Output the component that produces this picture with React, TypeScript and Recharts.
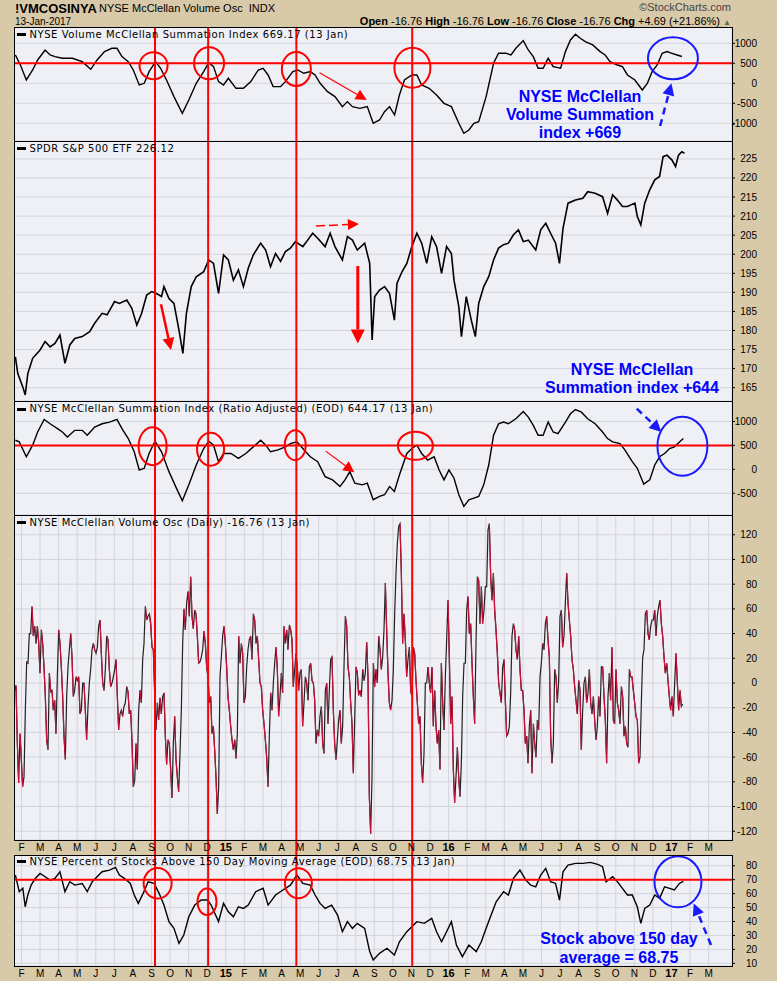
import React from 'react';
import { LineChart, Line, XAxis, YAxis, CartesianGrid, ReferenceLine, ReferenceDot } from 'recharts';

const SANS = "'Liberation Sans', Arial, Helvetica, sans-serif";
const VERD = "'DejaVu Sans', Verdana, sans-serif";

// x values are months since 1 Jan 2014 (1 = 1 Feb 2014, 36 = 1 Jan 2017)
const MONTH_LABELS = ['F','M','A','M','J','J','A','S','O','N','D','15','F','M','A','M','J','J','A','S','O','N','D','16','F','M','A','M','J','J','A','S','O','N','D','17','F','M'];
const MONTH_TICKS = MONTH_LABELS.map((_, i) => i + 1);
const X_DOMAIN: [number, number] = [0.596, 39.26];

// NYSE Volume McClellan Summation Index
const SUM_VOL_T = [0.67,0.94,1.26,1.60,1.87,2.27,2.54,2.80,3.20,3.74,4.27,4.73,5.07,5.47,5.87,6.14,6.41,6.75,7.02,7.34,7.61,7.87,8.22,8.49,8.81,9.21,9.66,10.01,10.41,10.81,11.08,11.34,11.61,11.88,12.14,12.55,12.95,13.35,13.75,14.01,14.28,14.55,14.95,15.21,15.61,15.88,16.20,16.55,16.81,17.08,17.48,17.88,18.28,18.55,18.82,19.22,19.62,19.94,20.28,20.55,20.82,21.09,21.35,21.62,22.02,22.29,22.55,22.95,23.35,23.75,24.15,24.55,24.82,25.09,25.36,25.62,26.02,26.42,26.69,27.09,27.36,27.62,28.02,28.29,28.56,28.82,29.09,29.36,29.63,30.03,30.29,30.56,30.83,31.09,31.36,31.76,32.16,32.43,32.69,33.09,33.36,33.63,34.03,34.43,34.70,34.96,35.23,35.50,35.76,36.03,36.30,36.56];
const SUM_VOL_V = [708,458,83,333,583,833,708,667,625,625,542,350,583,792,875,875,667,542,333,-42,0,292,542,375,83,-333,-750,-417,0,292,517,417,42,-42,125,-125,-125,42,333,375,208,-83,-83,42,292,333,250,292,208,0,-208,-333,-583,-458,-583,-625,-583,-1000,-917,-708,-583,-792,-292,83,208,208,-42,-125,-292,-500,-583,-1000,-1250,-1167,-1000,-958,-333,500,750,750,708,875,1067,833,667,375,375,625,417,375,792,1083,1225,1125,1042,958,792,708,542,458,417,208,83,-167,0,292,458,750,792,750,708,669];

// SPDR S&P 500 ETF
const SPY_T = [0.67,0.80,1.07,1.20,1.34,1.60,2.00,2.27,2.54,2.80,3.07,3.34,3.60,3.87,4.27,4.67,4.94,5.34,5.61,6.01,6.27,6.67,6.94,7.21,7.47,7.74,8.01,8.27,8.54,8.67,8.94,9.21,9.48,9.69,9.88,10.14,10.41,10.81,11.08,11.34,11.61,11.88,12.14,12.41,12.68,12.95,13.21,13.48,13.88,14.15,14.41,14.68,14.95,15.21,15.48,15.75,16.15,16.41,16.68,16.95,17.35,17.62,17.88,18.28,18.55,18.82,19.08,19.48,19.75,19.88,20.02,20.28,20.55,20.82,21.08,21.22,21.49,21.75,22.02,22.29,22.55,22.82,23.09,23.35,23.62,23.89,24.15,24.29,24.55,24.69,24.95,25.22,25.44,25.62,25.89,26.16,26.42,26.69,26.96,27.22,27.49,27.76,28.02,28.29,28.69,28.96,29.23,29.49,29.76,29.97,30.16,30.43,30.83,31.23,31.49,31.89,32.29,32.56,32.83,33.09,33.36,33.63,34.03,34.16,34.35,34.56,34.83,35.10,35.36,35.55,35.76,36.03,36.22,36.38,36.56,36.70];
const SPY_V = [173.1,168.7,165.2,163.1,168.7,172.7,174.9,177.1,175.7,176.6,178.8,171.4,176.2,177.9,178.4,179.7,181.9,184.5,184.1,187.6,187.1,188.0,185.8,181.4,184.5,189.3,190.2,189.7,188.9,191.5,188.4,187.1,180.1,174.0,184.5,191.5,194.1,195.4,198.5,197.6,189.7,199.8,198.5,193.2,195.9,191.5,196.3,199.8,202.9,201.1,196.7,200.2,198.1,200.7,201.6,203.3,202.0,203.7,205.5,204.2,202.0,205.5,202.0,198.5,204.6,203.7,201.1,202.9,197.6,177.5,188.9,190.6,191.5,189.7,182.7,192.4,195.4,197.6,202.0,205.5,202.9,197.6,204.6,202.0,195.0,202.0,200.2,193.2,186.2,178.4,188.9,182.7,178.4,187.1,191.5,194.1,198.5,201.6,202.5,202.9,205.1,206.4,203.3,203.7,201.1,206.4,208.1,205.5,202.9,197.6,206.8,213.4,214.2,214.7,216.4,216.0,215.1,210.7,215.6,214.2,212.5,212.5,213.4,209.9,207.7,213.4,216.9,219.5,220.4,225.6,226.0,224.7,223.0,226.0,226.9,226.5];

// NYSE McClellan Summation Index (Ratio Adjusted)
const SUM_RA_T = [0.67,0.88,1.26,1.60,1.87,2.22,2.54,2.94,3.20,3.47,3.87,4.27,4.54,4.94,5.34,5.74,6.14,6.41,6.75,7.07,7.34,7.61,7.87,8.19,8.54,8.94,9.34,9.66,10.01,10.41,10.81,11.08,11.34,11.61,11.88,12.28,12.68,13.08,13.48,13.88,14.15,14.41,14.81,15.21,15.48,15.83,16.15,16.55,16.95,17.35,17.75,18.15,18.42,18.68,18.95,19.35,19.62,19.94,20.28,20.55,20.82,21.08,21.35,21.75,22.02,22.29,22.55,22.87,23.22,23.49,23.75,24.02,24.29,24.55,24.82,25.09,25.36,25.62,25.89,26.16,26.42,26.69,26.96,27.22,27.62,28.02,28.29,28.56,28.82,29.09,29.36,29.63,29.89,30.29,30.56,30.83,31.15,31.49,31.89,32.29,32.56,32.83,33.23,33.49,33.89,34.16,34.51,34.83,35.10,35.36,35.63,35.90,36.16,36.43,36.64];
const SUM_RA_V = [607,573,262,504,780,1042,952,849,780,676,814,814,711,883,952,987,1042,849,642,366,-14,21,331,587,366,-48,-393,-656,-324,90,435,587,504,159,331,331,228,331,469,607,504,366,407,469,538,573,435,262,159,-152,-221,-359,-221,-48,-290,-324,-290,-635,-566,-531,-359,-462,-117,331,435,504,331,193,262,-14,-221,-14,-186,-531,-773,-635,-600,-566,-324,90,711,952,987,952,1056,1208,1090,918,711,711,987,780,745,987,1159,1249,1194,1056,952,780,642,573,538,407,159,21,-310,-221,90,262,331,435,469,573,644];

// NYSE McClellan Volume Oscillator (daily readings, one every ~1.5 trading days)
const OSC_START = 0.632;
const OSC_STEP = 0.0718;
const OSC_V = [
-6,-2,-49,-81,-41,-62,-84,-76,-22,17,16,40,40,62,38,46,32,46,33,8,
43,32,13,-11,-46,-54,8,-7,-6,-22,-14,-41,5,43,32,13,-11,-43,-62,-11,
13,27,40,21,-11,-6,5,2,5,-25,-22,0,0,-22,-46,-19,0,11,27,32,
27,24,29,46,51,24,0,-6,11,38,35,11,-3,0,5,11,19,-11,-38,-25,
-22,-27,-19,-16,-3,-7,-25,-22,-48,-84,-79,-49,-70,-22,-6,-16,19,32,62,51,
54,56,48,29,27,-8,-38,-16,-30,-12,-25,-11,-8,-43,-66,-46,-49,-70,-93,-49,
-27,-62,-76,-88,-57,-22,32,60,43,65,74,54,86,54,44,59,56,38,16,17,
21,27,42,32,13,5,-16,-11,-41,-35,-54,-76,-106,-84,5,21,38,46,32,13,
-11,-22,-35,-46,-54,-46,-61,-41,38,16,32,24,-16,-11,13,27,35,38,19,56,
51,32,38,19,0,-3,-22,-33,-46,-60,-84,-43,-8,-22,0,16,29,11,-27,-11,
8,-8,46,32,43,27,47,43,35,-3,11,24,13,-6,8,11,-35,-16,5,0,
-14,13,16,2,0,-14,-49,-38,-43,-27,-19,-49,-57,-6,0,-33,-6,19,21,-22,
-49,-62,-46,-30,-22,-49,-35,13,54,46,13,5,-16,-33,-73,-30,13,8,-10,-6,
-11,11,2,8,33,5,-92,-122,-76,16,-3,11,0,38,27,11,21,43,81,43,
8,-16,-22,-14,11,56,89,113,127,129,
89,32,56,35,5,19,29,-6,-11,29,24,2,-16,-33,-27,-65,-81,-57,0,0,
13,0,-8,13,-35,-6,-35,-49,-38,-70,16,-16,-38,5,35,67,21,-33,-11,-70,
-97,-76,-52,-76,-92,-65,-11,16,16,59,70,40,48,16,-11,-33,32,86,83,48,
78,48,59,78,78,124,129,86,67,89,59,43,24,0,-8,-16,13,19,-14,-43,
-41,-35,-8,38,48,43,27,19,38,11,-6,-6,-22,-49,-43,-65,-35,-22,-73,-33,
-49,-60,-30,-38,5,16,32,27,48,54,35,21,-43,-65,-49,11,5,-16,2,54,
59,29,38,65,89,65,51,38,19,11,-3,-14,-25,2,-6,-54,-22,0,5,-16,
-8,11,-16,-25,-11,-30,-46,-35,-11,-27,13,13,-11,-30,-65,-11,8,-14,29,-30,
-33,11,-16,-22,-33,-3,-11,-43,-35,-49,-52,11,5,5,-6,-16,-27,-30,-65,-60,
-16,21,27,56,59,40,35,46,51,51,59,38,54,62,67,48,38,21,8,16,
2,-11,-22,-11,-27,0,24,0,-22,-6,-19,-17
];

// NYSE Percent of Stocks Above 150 Day Moving Average
const PCT_T = [0.67,0.88,1.07,1.20,1.34,1.52,1.74,2.00,2.27,2.54,2.80,3.07,3.34,3.60,3.87,4.27,4.54,4.81,5.07,5.34,5.74,6.06,6.27,6.54,6.86,7.07,7.29,7.55,7.82,8.14,8.41,8.67,8.94,9.21,9.48,9.74,10.01,10.33,10.68,11.02,11.21,11.61,11.88,12.14,12.41,12.68,12.95,13.21,13.61,14.01,14.28,14.68,15.08,15.48,15.83,16.15,16.55,16.81,17.08,17.35,17.70,18.02,18.28,18.55,18.82,19.08,19.48,19.75,19.94,20.28,20.68,21.08,21.35,21.75,22.02,22.29,22.69,23.09,23.35,23.62,23.89,24.15,24.42,24.74,25.09,25.49,25.76,26.02,26.29,26.56,26.96,27.22,27.49,27.84,28.16,28.42,28.69,28.96,29.23,29.49,29.76,29.97,30.16,30.43,30.83,31.23,31.63,32.03,32.29,32.48,32.83,33.09,33.36,33.63,33.89,34.16,34.35,34.56,34.83,35.10,35.36,35.63,35.90,36.16,36.43,36.64];
const PCT_V = [73.3,61.4,63.8,50.6,59,66.1,70.9,74.5,72.1,69.7,70.9,75.7,61.4,68.5,66.1,67.3,61.4,68.5,72.1,75.7,76.9,78.8,73.3,70.9,67.3,59,53,60.2,68.5,67.3,60.2,51.8,39.9,35.1,24.3,30.3,43.4,51.8,55.4,55.4,51.8,39.9,53,47,43.4,50.6,49.4,51.8,61.4,63.8,51.8,59,62.6,66.1,73.3,67.3,66.1,59,53,49.4,51.8,44.6,32.7,39.9,35.1,38.7,35.1,18.4,12.4,17.2,20.8,16,25.5,32.7,36.3,39.9,38.7,42.3,32.7,25.5,32.7,39.9,23.1,14.8,23.1,18.4,25.5,35.1,44.6,54.2,61.4,59,70.9,76.9,69.7,66.1,64.9,73.3,78.1,68.5,67.3,55.4,75.7,80.5,81.7,81.7,82.4,81,79.3,68.5,72.1,68.5,63.8,59,59,50.6,38.7,49.4,51.8,59,56.6,64.9,63.8,62.6,67.3,68.75];

// Signal dates (vertical red lines), in the same month units
const SIGNAL_T = [8.19, 11.05, 15.80, 22.04];

const toRows = (ts: number[], vs: number[]) => ts.map((t, i) => ({ t, v: vs[i] }));
const sumVolRows = toRows(SUM_VOL_T, SUM_VOL_V);
const spyRows = toRows(SPY_T, SPY_V);
const sumRaRows = toRows(SUM_RA_T, SUM_RA_V);
const pctRows = toRows(PCT_T, PCT_V);

// oscillator rows with falling stretches split into two alternating keys (drawn red)
const oscRows: any[] = OSC_V.map((v, i) => ({ t: OSC_START + i * OSC_STEP, v, dA: null, dB: null }));
(() => {
  let run = -1;
  let inRun = false;
  for (let i = 0; i < OSC_V.length - 1; i++) {
    if (OSC_V[i + 1] < OSC_V[i]) {
      if (!inRun) { run++; inRun = true; }
      const k = run % 2 === 0 ? 'dA' : 'dB';
      oscRows[i][k] = OSC_V[i];
      oscRows[i + 1][k] = OSC_V[i + 1];
    } else {
      inRun = false;
    }
  }
})();

const RED = '#ff0000';
const BLUE = '#1a1aff';

function XTick(props: any) {
  const { x, y, payload } = props;
  const idx = MONTH_TICKS.indexOf(payload.value);
  const label = idx >= 0 ? MONTH_LABELS[idx] : '';
  const bold = /\d/.test(label);
  return (
    <text x={x} y={y + 11} textAnchor="middle" fontSize={bold ? 11 : 10} fontWeight={bold ? 700 : 400} fontFamily={SANS} fill="#000">
      {label}
    </text>
  );
}

function YTick(props: any) {
  const { x, y, payload } = props;
  return (
    <text x={x + 22} y={y + 3.5} textAnchor="end" fontSize={10} fontFamily={SANS} fill="#000">
      {payload.value}
    </text>
  );
}

const arrowShape = (color: string, width: number, head: number, dash?: string) => (p: any) => {
  const x1 = Number(p.x1), y1 = Number(p.y1), x2 = Number(p.x2), y2 = Number(p.y2);
  const a = Math.atan2(y2 - y1, x2 - x1);
  const bx = x2 - head * Math.cos(a);
  const by = y2 - head * Math.sin(a);
  const w = head * 0.5;
  const px = -Math.sin(a) * w;
  const py = Math.cos(a) * w;
  return (
    <g>
      <line x1={x1} y1={y1} x2={bx} y2={by} stroke={color} strokeWidth={width} strokeDasharray={dash} />
      <polygon points={`${x2},${y2} ${bx + px},${by + py} ${bx - px},${by - py}`} fill={color} />
    </g>
  );
};

const ellipseShape = (rx: number, ry: number, color: string) => (p: any) => (
  <ellipse cx={p.cx} cy={p.cy} rx={rx} ry={ry} fill="none" stroke={color} strokeWidth={2} />
);

type PanelProps = {
  top: number;
  height: number;
  axisH: number;
  data: any[];
  domain: [number, number];
  yTicks: number[];
  children?: React.ReactNode;
};

function Panel({ top, height, axisH, data, domain, yTicks, children }: PanelProps) {
  return (
    <div style={{ position: 'absolute', left: 0, top, width: 777, height: height + axisH }}>
      <LineChart width={777} height={height + axisH} data={data} margin={{ top: 0, right: 5, bottom: 0, left: 14 }}>
        <CartesianGrid stroke="#d3d4dc" fill="#eff0f5" />
        <XAxis
          type="number"
          dataKey="t"
          domain={X_DOMAIN}
          allowDataOverflow
          ticks={MONTH_TICKS}
          interval={0}
          height={axisH}
          axisLine={false}
          tickLine={false}
          tickSize={0}
          tickMargin={0}
          tick={axisH > 0 ? <XTick /> : false}
        />
        <YAxis
          orientation="right"
          type="number"
          domain={domain}
          allowDataOverflow
          ticks={yTicks}
          interval={0}
          width={40}
          axisLine={false}
          tickLine={{ stroke: '#000' }}
          tickSize={3}
          tickMargin={0}
          tick={<YTick />}
        />
        {children}
      </LineChart>
    </div>
  );
}

const PANELS = [
  { top: 27, h: 114 },
  { top: 141, h: 260 },
  { top: 401, h: 114 },
  { top: 515, h: 325 },
  { top: 855, h: 111 },
];

const TITLES = [
  { cy: 34.3, text: 'NYSE Volume McClellan Summation Index 669.17 (13 Jan)' },
  { cy: 148.3, text: 'SPDR S&P 500 ETF 226.12' },
  { cy: 409, text: 'NYSE McClellan Summation Index (Ratio Adjusted) (EOD) 644.17 (13 Jan)' },
  { cy: 522.7, text: 'NYSE McClellan Volume Osc (Daily) -16.76 (13 Jan)' },
  { cy: 861.7, text: 'NYSE Percent of Stocks Above 150 Day Moving Average (EOD) 68.75 (13 Jan)' },
];

const noteStyle: React.CSSProperties = {
  position: 'absolute',
  color: '#0000ff',
  fontFamily: SANS,
  fontWeight: 700,
  fontSize: 16,
  textAlign: 'center',
  whiteSpace: 'nowrap',
};

export default function App() {
  return (
    <div style={{ position: 'absolute', left: 0, top: 0, width: 777, height: 981, overflow: 'hidden', background: '#d8c9a9', fontFamily: SANS }}>
      {/* header */}
      <div style={{ position: 'absolute', left: 15, top: 1.7, fontSize: 13, lineHeight: '13px', fontWeight: 700, whiteSpace: 'nowrap' }}>!VMCOSINYA</div>
      <div style={{ position: 'absolute', left: 99, top: 3.4, fontSize: 11, lineHeight: '11px', whiteSpace: 'pre' }}>NYSE McClellan Volume Osc  INDX</div>
      <div style={{ position: 'absolute', left: 15, top: 16.5, fontSize: 10, lineHeight: '10px', whiteSpace: 'nowrap' }}>13-Jan-2017</div>
      <div style={{ position: 'absolute', right: 46, top: 1.7, fontSize: 11, lineHeight: '11px', color: '#444', whiteSpace: 'nowrap' }}>©StockCharts.com</div>
      <div style={{ position: 'absolute', right: 46, top: 16.2, fontSize: 11, lineHeight: '11px', whiteSpace: 'pre' }}>
        <b>Open</b> -16.76 <b>High</b> -16.76 <b>Low</b> -16.76 <b>Close</b> -16.76 <b>Chg</b> +4.69 (+21.86%) <span style={{ color: '#5c6b4e', fontSize: 8 }}>▲</span>
      </div>

      {/* Panel 1: Volume Summation */}
      <Panel top={27} height={114} axisH={0} data={sumVolRows} domain={[-1442, 1407]} yTicks={[-1000, -500, 0, 500, 1000]}>
        {[
          <Line key="l" type="linear" dataKey="v" stroke="#000" strokeWidth={1.4} dot={false} isAnimationActive={false} />,
          <ReferenceLine key="h" y={500} stroke={RED} strokeWidth={2} />,
          ...SIGNAL_T.map((t) => <ReferenceLine key={'s' + t} x={t} stroke={RED} strokeWidth={2} />),
          <ReferenceDot key="c1" x={8.11} y={440} r={14} shape={ellipseShape(14, 13.5, RED)} />,
          <ReferenceDot key="c2" x={11.10} y={500} r={15} shape={ellipseShape(15, 16, RED)} />,
          <ReferenceDot key="c3" x={15.80} y={358} r={14} shape={ellipseShape(14.5, 17, RED)} />,
          <ReferenceDot key="c4" x={22.05} y={390} r={18} shape={ellipseShape(18, 20, RED)} />,
          <ReferenceDot key="cb" x={36.08} y={625} r={25} shape={ellipseShape(25, 21, BLUE)} />,
          <ReferenceLine key="a1" segment={[{ x: 17.05, y: 265 }, { x: 19.59, y: -418 }]} shape={arrowShape(RED, 1.2, 11)} />,
          <ReferenceLine key="a2" segment={[{ x: 35.39, y: -1068 }, { x: 36.0, y: 0 }]} shape={arrowShape(BLUE, 2.5, 12, '7 5')} />,
        ]}
      </Panel>

      {/* Panel 2: SPY */}
      <Panel top={141} height={260} axisH={0} data={spyRows} domain={[161.5, 229.7]} yTicks={[165, 170, 175, 180, 185, 190, 195, 200, 205, 210, 215, 220, 225]}>
        {[
          <Line key="l" type="linear" dataKey="v" stroke="#000" strokeWidth={1.6} dot={false} isAnimationActive={false} />,
          ...SIGNAL_T.map((t) => <ReferenceLine key={'s' + t} x={t} stroke={RED} strokeWidth={2} />),
          <ReferenceLine key="a1" segment={[{ x: 8.51, y: 186.9 }, { x: 9.05, y: 174.9 }]} shape={arrowShape(RED, 2.5, 12)} />,
          <ReferenceLine key="a2" segment={[{ x: 16.86, y: 207.4 }, { x: 19.17, y: 207.9 }]} shape={arrowShape(RED, 1.5, 11, '9 4')} />,
          <ReferenceLine key="a3" segment={[{ x: 19.11, y: 196.9 }, { x: 19.11, y: 176.6 }]} shape={arrowShape(RED, 3, 14)} />,
        ]}
      </Panel>

      {/* Panel 3: Ratio adjusted summation */}
      <Panel top={401} height={114} axisH={0} data={sumRaRows} domain={[-954, 1427]} yTicks={[-500, 0, 500, 1000]}>
        {[
          <Line key="l" type="linear" dataKey="v" stroke="#000" strokeWidth={1.4} dot={false} isAnimationActive={false} />,
          <ReferenceLine key="h" y={500} stroke={RED} strokeWidth={2} />,
          ...SIGNAL_T.map((t) => <ReferenceLine key={'s' + t} x={t} stroke={RED} strokeWidth={2} />),
          <ReferenceDot key="c1" x={8.06} y={483} r={14} shape={ellipseShape(14, 19, RED)} />,
          <ReferenceDot key="c2" x={11.18} y={421} r={14} shape={ellipseShape(13.5, 16.5, RED)} />,
          <ReferenceDot key="c3" x={15.74} y={504} r={11} shape={ellipseShape(10.5, 15, RED)} />,
          <ReferenceDot key="c4" x={22.21} y={492} r={17} shape={ellipseShape(17.5, 14, RED)} />,
          <ReferenceDot key="cb" x={36.59} y={483} r={25} shape={ellipseShape(25, 29.5, BLUE)} />,
          <ReferenceLine key="a1" segment={[{ x: 17.38, y: 380 }, { x: 18.92, y: -62 }]} shape={arrowShape(RED, 1.2, 11)} />,
          <ReferenceLine key="a2" segment={[{ x: 34.13, y: 1266 }, { x: 35.46, y: 782 }]} shape={arrowShape(BLUE, 2.5, 12, '7 5')} />,
        ]}
      </Panel>

      {/* Panel 4: Volume oscillator (signal lines extended down through the month labels) */}
      <Panel top={515} height={325} axisH={16} data={oscRows} domain={[-127.1, 136]} yTicks={[-120, -100, -80, -60, -40, -20, 0, 20, 40, 60, 80, 100, 120]}>
        {[
          <Line key="l" type="linear" dataKey="v" stroke="#222" strokeWidth={1.2} dot={false} isAnimationActive={false} />,
          <Line key="dA" type="linear" dataKey="dA" stroke="#c8103a" strokeWidth={1.2} dot={false} isAnimationActive={false} connectNulls={false} />,
          <Line key="dB" type="linear" dataKey="dB" stroke="#c8103a" strokeWidth={1.2} dot={false} isAnimationActive={false} connectNulls={false} />,
          ...SIGNAL_T.map((t) => (
            <ReferenceLine key={'s' + t} segment={[{ x: t, y: 136 }, { x: t, y: -141 }]} ifOverflow="visible" stroke={RED} strokeWidth={2} />
          )),
        ]}
      </Panel>

      {/* Panel 5: Percent above 150 DMA */}
      <Panel top={855} height={111} axisH={16} data={pctRows} domain={[8.1, 87.7]} yTicks={[10, 20, 30, 40, 50, 60, 70, 80]}>
        {[
          <Line key="l" type="linear" dataKey="v" stroke="#000" strokeWidth={1.4} dot={false} isAnimationActive={false} />,
          <ReferenceLine key="h" y={70} stroke={RED} strokeWidth={2} />,
          ...SIGNAL_T.map((t) => <ReferenceLine key={'s' + t} x={t} stroke={RED} strokeWidth={2} />),
          <ReferenceDot key="c1" x={8.33} y={67.4} r={14} shape={ellipseShape(14, 15.3, RED)} />,
          <ReferenceDot key="c2" x={10.99} y={54.2} r={10} shape={ellipseShape(9.5, 13.3, RED)} />,
          <ReferenceDot key="c3" x={15.91} y={67.4} r={14} shape={ellipseShape(13.5, 15, RED)} />,
          <ReferenceDot key="cb" x={36.35} y={68.5} r={24} shape={ellipseShape(23.5, 25.5, BLUE)} />,
          <ReferenceLine key="a1" segment={[{ x: 38.13, y: 23.2 }, { x: 37.2, y: 53.0 }]} shape={arrowShape(BLUE, 2.5, 12, '7 5')} />,
        ]}
      </Panel>

      {/* panel borders */}
      {PANELS.map((p, i) => (
        <div key={i} style={{ position: 'absolute', left: 14, top: p.top, width: 719, height: p.h + 1, border: '1px solid #000', boxSizing: 'border-box', pointerEvents: 'none' }} />
      ))}

      {/* panel titles */}
      {TITLES.map((tt, i) => (
        <React.Fragment key={i}>
          <div style={{ position: 'absolute', left: 17, top: tt.cy - 1.5, width: 9, height: 3, background: '#000' }} />
          <div style={{ position: 'absolute', left: 29.5, top: tt.cy - 5.8, fontFamily: VERD, fontSize: 10, lineHeight: '12px', letterSpacing: 0.55, whiteSpace: 'nowrap', color: '#000' }}>{tt.text}</div>
        </React.Fragment>
      ))}

      {/* annotations */}
      <div style={{ ...noteStyle, left: 480, width: 200, top: 87.9, lineHeight: '18px' }}>
        NYSE McClellan<br />Volume Summation<br />index +669
      </div>
      <div style={{ ...noteStyle, left: 532, width: 200, top: 361.2, lineHeight: '18.3px' }}>
        NYSE McClellan<br />Summation index +644
      </div>
      <div style={{ ...noteStyle, left: 519, width: 200, top: 928.8, lineHeight: '19.4px' }}>
        Stock above 150 day<br />average = 68.75
      </div>
    </div>
  );
}
